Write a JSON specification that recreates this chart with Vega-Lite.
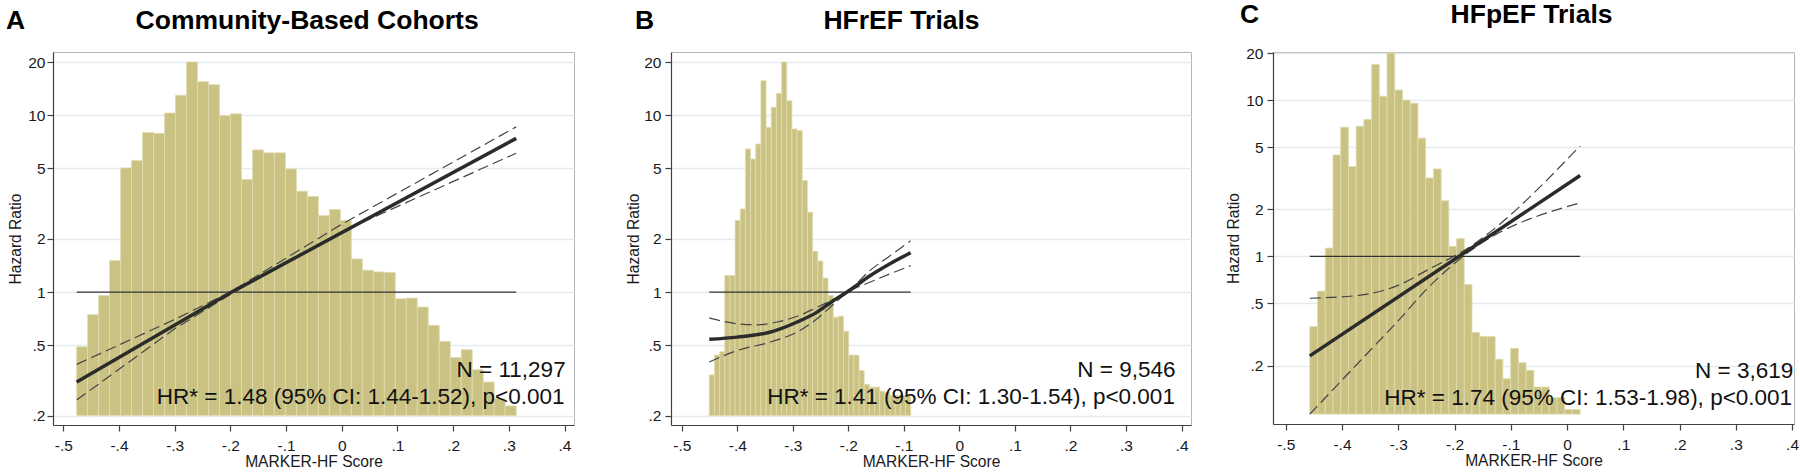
{
  "$schema": "https://vega.github.io/schema/vega-lite/v6.json",
  "background": "white",
  "padding": {"top": 1, "left": 5, "right": 5, "bottom": 2},
  "datasets": {
    "barsA": [
      {"x": -0.4760, "xe": -0.4563, "hr": 0.49},
      {"x": -0.4563, "xe": -0.4365, "hr": 0.745},
      {"x": -0.4365, "xe": -0.4168, "hr": 0.957},
      {"x": -0.4168, "xe": -0.3971, "hr": 1.51},
      {"x": -0.3971, "xe": -0.3774, "hr": 5.04},
      {"x": -0.3774, "xe": -0.3576, "hr": 5.55},
      {"x": -0.3576, "xe": -0.3379, "hr": 8.0},
      {"x": -0.3379, "xe": -0.3182, "hr": 7.9},
      {"x": -0.3182, "xe": -0.2984, "hr": 10.3},
      {"x": -0.2984, "xe": -0.2787, "hr": 13.0},
      {"x": -0.2787, "xe": -0.2590, "hr": 20.0},
      {"x": -0.2590, "xe": -0.2392, "hr": 15.5},
      {"x": -0.2392, "xe": -0.2195, "hr": 14.9},
      {"x": -0.2195, "xe": -0.1998, "hr": 9.95},
      {"x": -0.1998, "xe": -0.1801, "hr": 10.2},
      {"x": -0.1801, "xe": -0.1603, "hr": 4.33},
      {"x": -0.1603, "xe": -0.1406, "hr": 6.37},
      {"x": -0.1406, "xe": -0.1209, "hr": 6.13},
      {"x": -0.1209, "xe": -0.1011, "hr": 6.13},
      {"x": -0.1011, "xe": -0.0814, "hr": 4.97},
      {"x": -0.0814, "xe": -0.0617, "hr": 3.72},
      {"x": -0.0617, "xe": -0.0419, "hr": 3.47},
      {"x": -0.0419, "xe": -0.0222, "hr": 2.71},
      {"x": -0.0222, "xe": -0.0025, "hr": 2.93},
      {"x": -0.0025, "xe": 0.0172, "hr": 2.54},
      {"x": 0.0172, "xe": 0.0370, "hr": 1.54},
      {"x": 0.0370, "xe": 0.0567, "hr": 1.33},
      {"x": 0.0567, "xe": 0.0764, "hr": 1.30},
      {"x": 0.0764, "xe": 0.0961, "hr": 1.29},
      {"x": 0.0961, "xe": 0.1159, "hr": 0.917},
      {"x": 0.1159, "xe": 0.1356, "hr": 0.925},
      {"x": 0.1356, "xe": 0.1553, "hr": 0.823},
      {"x": 0.1553, "xe": 0.1751, "hr": 0.648},
      {"x": 0.1751, "xe": 0.1948, "hr": 0.526},
      {"x": 0.1948, "xe": 0.2145, "hr": 0.426},
      {"x": 0.2145, "xe": 0.2343, "hr": 0.472},
      {"x": 0.2343, "xe": 0.2540, "hr": 0.364},
      {"x": 0.2540, "xe": 0.2737, "hr": 0.310},
      {"x": 0.2737, "xe": 0.2934, "hr": 0.25},
      {"x": 0.2934, "xe": 0.3132, "hr": 0.227}
    ],
    "barsB": [
      {"x": -0.4505, "xe": -0.4412, "hr": 0.34},
      {"x": -0.4412, "xe": -0.4319, "hr": 0.44},
      {"x": -0.4319, "xe": -0.4226, "hr": 0.46},
      {"x": -0.4226, "xe": -0.4133, "hr": 1.24},
      {"x": -0.4133, "xe": -0.4040, "hr": 1.24},
      {"x": -0.4040, "xe": -0.3947, "hr": 2.54},
      {"x": -0.3947, "xe": -0.3854, "hr": 2.95},
      {"x": -0.3854, "xe": -0.3761, "hr": 6.45},
      {"x": -0.3761, "xe": -0.3668, "hr": 5.66},
      {"x": -0.3668, "xe": -0.3575, "hr": 6.88},
      {"x": -0.3575, "xe": -0.3482, "hr": 15.7},
      {"x": -0.3482, "xe": -0.3389, "hr": 8.55},
      {"x": -0.3389, "xe": -0.3296, "hr": 11.1},
      {"x": -0.3296, "xe": -0.3203, "hr": 13.3},
      {"x": -0.3203, "xe": -0.3110, "hr": 20.0},
      {"x": -0.3110, "xe": -0.3017, "hr": 12.1},
      {"x": -0.3017, "xe": -0.2924, "hr": 8.37},
      {"x": -0.2924, "xe": -0.2831, "hr": 8.2},
      {"x": -0.2831, "xe": -0.2738, "hr": 4.27},
      {"x": -0.2738, "xe": -0.2645, "hr": 2.83},
      {"x": -0.2645, "xe": -0.2552, "hr": 1.7},
      {"x": -0.2552, "xe": -0.2459, "hr": 1.5},
      {"x": -0.2459, "xe": -0.2366, "hr": 1.2},
      {"x": -0.2366, "xe": -0.2273, "hr": 0.957},
      {"x": -0.2273, "xe": -0.2180, "hr": 0.72},
      {"x": -0.2180, "xe": -0.2087, "hr": 0.73},
      {"x": -0.2087, "xe": -0.1994, "hr": 0.6},
      {"x": -0.1994, "xe": -0.1901, "hr": 0.44},
      {"x": -0.1901, "xe": -0.1808, "hr": 0.44},
      {"x": -0.1808, "xe": -0.1715, "hr": 0.36},
      {"x": -0.1715, "xe": -0.1622, "hr": 0.30},
      {"x": -0.1622, "xe": -0.1529, "hr": 0.29},
      {"x": -0.1529, "xe": -0.1436, "hr": 0.29},
      {"x": -0.1436, "xe": -0.1343, "hr": 0.275},
      {"x": -0.1343, "xe": -0.1250, "hr": 0.27},
      {"x": -0.1250, "xe": -0.1157, "hr": 0.26},
      {"x": -0.1157, "xe": -0.1064, "hr": 0.26},
      {"x": -0.1064, "xe": -0.0971, "hr": 0.26},
      {"x": -0.0971, "xe": -0.0878, "hr": 0.26}
    ],
    "barsC": [
      {"x": -0.4572, "xe": -0.4435, "hr": 0.356},
      {"x": -0.4435, "xe": -0.4297, "hr": 0.60},
      {"x": -0.4297, "xe": -0.4160, "hr": 1.13},
      {"x": -0.4160, "xe": -0.4023, "hr": 4.46},
      {"x": -0.4023, "xe": -0.3885, "hr": 6.71},
      {"x": -0.3885, "xe": -0.3748, "hr": 3.76},
      {"x": -0.3748, "xe": -0.3611, "hr": 6.8},
      {"x": -0.3611, "xe": -0.3474, "hr": 7.52},
      {"x": -0.3474, "xe": -0.3336, "hr": 16.9},
      {"x": -0.3336, "xe": -0.3199, "hr": 10.6},
      {"x": -0.3199, "xe": -0.3062, "hr": 20.0},
      {"x": -0.3062, "xe": -0.2924, "hr": 11.6},
      {"x": -0.2924, "xe": -0.2787, "hr": 10.0},
      {"x": -0.2787, "xe": -0.2650, "hr": 9.56},
      {"x": -0.2650, "xe": -0.2513, "hr": 5.71},
      {"x": -0.2513, "xe": -0.2375, "hr": 3.18},
      {"x": -0.2375, "xe": -0.2238, "hr": 3.63},
      {"x": -0.2238, "xe": -0.2101, "hr": 2.27},
      {"x": -0.2101, "xe": -0.1963, "hr": 1.16},
      {"x": -0.1963, "xe": -0.1826, "hr": 1.30},
      {"x": -0.1826, "xe": -0.1689, "hr": 0.66},
      {"x": -0.1689, "xe": -0.1551, "hr": 0.326},
      {"x": -0.1551, "xe": -0.1414, "hr": 0.307},
      {"x": -0.1414, "xe": -0.1277, "hr": 0.307},
      {"x": -0.1277, "xe": -0.1140, "hr": 0.22},
      {"x": -0.1140, "xe": -0.1002, "hr": 0.165},
      {"x": -0.1002, "xe": -0.0865, "hr": 0.258},
      {"x": -0.0865, "xe": -0.0728, "hr": 0.209},
      {"x": -0.0728, "xe": -0.0590, "hr": 0.187},
      {"x": -0.0590, "xe": -0.0453, "hr": 0.146},
      {"x": -0.0453, "xe": -0.0316, "hr": 0.146},
      {"x": -0.0316, "xe": -0.0178, "hr": 0.125},
      {"x": -0.0178, "xe": -0.0041, "hr": 0.125},
      {"x": -0.0041, "xe": 0.0096, "hr": 0.105},
      {"x": 0.0096, "xe": 0.0233, "hr": 0.105}
    ],
    "curves": [
      {"p": "A", "s": "ref", "x": -0.476, "hr": 1},
      {"p": "A", "s": "ref", "x": 0.3132, "hr": 1},
      {"p": "A", "s": "hr", "x": -0.476, "hr": 0.31},
      {"p": "A", "s": "hr", "x": -0.2, "hr": 0.99},
      {"p": "A", "s": "hr", "x": 0.3132, "hr": 7.4},
      {"p": "A", "s": "up", "x": -0.476, "hr": 0.39},
      {"p": "A", "s": "up", "x": -0.3, "hr": 0.70},
      {"p": "A", "s": "up", "x": -0.2, "hr": 1.0},
      {"p": "A", "s": "up", "x": 0.0, "hr": 2.42},
      {"p": "A", "s": "up", "x": 0.3132, "hr": 8.6},
      {"p": "A", "s": "lo", "x": -0.476, "hr": 0.245},
      {"p": "A", "s": "lo", "x": -0.3, "hr": 0.62},
      {"p": "A", "s": "lo", "x": -0.2, "hr": 0.97},
      {"p": "A", "s": "lo", "x": 0.0, "hr": 2.2},
      {"p": "A", "s": "lo", "x": 0.3132, "hr": 6.1},
      {"p": "B", "s": "ref", "x": -0.4505, "hr": 1},
      {"p": "B", "s": "ref", "x": -0.0878, "hr": 1},
      {"p": "B", "s": "hr", "x": -0.4505, "hr": 0.54},
      {"p": "B", "s": "hr", "x": -0.4001, "hr": 0.556},
      {"p": "B", "s": "hr", "x": -0.3401, "hr": 0.594},
      {"p": "B", "s": "hr", "x": -0.2922, "hr": 0.677},
      {"p": "B", "s": "hr", "x": -0.2563, "hr": 0.77},
      {"p": "B", "s": "hr", "x": -0.2293, "hr": 0.885},
      {"p": "B", "s": "hr", "x": -0.2023, "hr": 1.0},
      {"p": "B", "s": "hr", "x": -0.1603, "hr": 1.24},
      {"p": "B", "s": "hr", "x": -0.1243, "hr": 1.45},
      {"p": "B", "s": "hr", "x": -0.0878, "hr": 1.67},
      {"p": "B", "s": "up", "x": -0.4505, "hr": 0.715},
      {"p": "B", "s": "up", "x": -0.4001, "hr": 0.662},
      {"p": "B", "s": "up", "x": -0.3642, "hr": 0.653},
      {"p": "B", "s": "up", "x": -0.3282, "hr": 0.677},
      {"p": "B", "s": "up", "x": -0.2922, "hr": 0.73},
      {"p": "B", "s": "up", "x": -0.2563, "hr": 0.82},
      {"p": "B", "s": "up", "x": -0.2293, "hr": 0.9},
      {"p": "B", "s": "up", "x": -0.2023, "hr": 1.0},
      {"p": "B", "s": "up", "x": -0.1603, "hr": 1.33},
      {"p": "B", "s": "up", "x": -0.1243, "hr": 1.61},
      {"p": "B", "s": "up", "x": -0.0878, "hr": 1.95},
      {"p": "B", "s": "lo", "x": -0.4505, "hr": 0.402},
      {"p": "B", "s": "lo", "x": -0.4001, "hr": 0.467},
      {"p": "B", "s": "lo", "x": -0.3401, "hr": 0.522},
      {"p": "B", "s": "lo", "x": -0.2922, "hr": 0.594},
      {"p": "B", "s": "lo", "x": -0.2563, "hr": 0.706},
      {"p": "B", "s": "lo", "x": -0.2293, "hr": 0.84},
      {"p": "B", "s": "lo", "x": -0.2023, "hr": 0.99},
      {"p": "B", "s": "lo", "x": -0.1603, "hr": 1.14},
      {"p": "B", "s": "lo", "x": -0.1243, "hr": 1.27},
      {"p": "B", "s": "lo", "x": -0.0878, "hr": 1.41},
      {"p": "C", "s": "ref", "x": -0.4572, "hr": 1},
      {"p": "C", "s": "ref", "x": 0.0233, "hr": 1},
      {"p": "C", "s": "hr", "x": -0.4572, "hr": 0.231},
      {"p": "C", "s": "hr", "x": 0.0233, "hr": 3.29},
      {"p": "C", "s": "up", "x": -0.4572, "hr": 0.54},
      {"p": "C", "s": "up", "x": -0.3675, "hr": 0.565},
      {"p": "C", "s": "up", "x": -0.2995, "hr": 0.655},
      {"p": "C", "s": "up", "x": -0.2451, "hr": 0.83},
      {"p": "C", "s": "up", "x": -0.185, "hr": 1.08},
      {"p": "C", "s": "up", "x": 0.0233, "hr": 5.1},
      {"p": "C", "s": "lo", "x": -0.4572, "hr": 0.098},
      {"p": "C", "s": "lo", "x": -0.3675, "hr": 0.215},
      {"p": "C", "s": "lo", "x": -0.2995, "hr": 0.39},
      {"p": "C", "s": "lo", "x": -0.2451, "hr": 0.64},
      {"p": "C", "s": "lo", "x": -0.185, "hr": 1.0},
      {"p": "C", "s": "lo", "x": 0.0233, "hr": 2.2}
    ]
  },
  "align": "none",
  "spacing": 51,
  "hconcat": [
    {
      "width": 521,
      "height": 373,
      "title": {"text": "A\u00a0\u00a0\u00a0\u00a0\u00a0\u00a0\u00a0\u00a0\u00a0\u00a0\u00a0\u00a0\u00a0\u00a0\u00a0Community-Based Cohorts", "anchor": "start", "frame": "group", "dx": -47, "offset": -3, "baseline": "alphabetic"},
      "layer": [
        {
          "encoding": {
            "x": {"field": "x", "type": "quantitative", "scale": {"domain": [-0.5185, 0.417], "nice": false, "zero": false},
                  "axis": {"values": [-0.5, -0.4, -0.3, -0.2, -0.1, 0, 0.1, 0.2, 0.3, 0.4], "labelExpr": "(datum.value < 0 ? '-' : '') + replace(format(abs(datum.value), '~g'), '0.', '.')", "title": "MARKER-HF Score", "labelPadding": 7, "titlePadding": 1, "grid": false}},
            "y": {"field": "hr", "type": "quantitative", "scale": {"type": "log", "domain": [0.177, 22.8], "nice": false},
                  "axis": {"values": [0.2, 0.5, 1, 2, 5, 10, 20], "labelExpr": "replace(format(datum.value, '~g'), '0.', '.')", "title": "Hazard Ratio", "grid": true, "gridColor": "#e2ebee", "gridWidth": 1.3, "labelPadding": 2, "titlePadding": 4}}
          },
          "layer": [
            {"data": {"name": "barsA"}, "mark": {"type": "rect", "fill": "#cac283", "stroke": "#e2dcb0", "strokeWidth": 0.8}, "encoding": {"x2": {"field": "xe"}, "y2": {"datum": 0.2}}},
            {"data": {"name": "curves"}, "transform": [{"filter": "datum.p == 'A' && datum.s == 'ref'"}], "mark": {"type": "line", "color": "#333333", "strokeWidth": 1.2}, "encoding": {}},
            {"data": {"name": "curves"}, "transform": [{"filter": "datum.p == 'A' && (datum.s == 'up' || datum.s == 'lo')"}], "mark": {"type": "line", "color": "#444444", "strokeWidth": 1.2, "strokeDash": [11, 5]}, "encoding": {"detail": {"field": "s"}}},
            {"data": {"name": "curves"}, "transform": [{"filter": "datum.p == 'A' && datum.s == 'hr'"}], "mark": {"type": "line", "color": "#2b2b2b", "strokeWidth": 3.5}, "encoding": {}}
          ]
        },
        {"data": {"values": [{"lab": "N = 11,297"}]}, "mark": {"type": "text", "align": "right", "baseline": "middle", "fontSize": 22.5, "color": "#111111"}, "encoding": {"x": {"datum": 0.402, "type": "quantitative"}, "y": {"datum": 0.36, "type": "quantitative"}, "text": {"field": "lab", "type": "nominal"}}},
        {"data": {"values": [{"lab": "HR* = 1.48 (95% CI: 1.44-1.52), p<0.001"}]}, "mark": {"type": "text", "align": "right", "baseline": "middle", "fontSize": 22.5, "color": "#111111"}, "encoding": {"x": {"datum": 0.4, "type": "quantitative"}, "y": {"datum": 0.255, "type": "quantitative"}, "text": {"field": "lab", "type": "nominal"}}}
      ]
    },
    {
      "align": "none",
      "spacing": 34,
      "hconcat": [
        {
          "width": 520,
          "height": 373,
          "title": {"text": "B\u00a0\u00a0\u00a0\u00a0\u00a0\u00a0\u00a0\u00a0\u00a0\u00a0\u00a0\u00a0\u00a0\u00a0\u00a0\u00a0\u00a0\u00a0\u00a0\u00a0\u00a0\u00a0\u00a0HFrEF Trials", "anchor": "start", "frame": "group", "dx": -36, "offset": -3, "baseline": "alphabetic"},
          "layer": [
            {
              "encoding": {
                "x": {"field": "x", "type": "quantitative", "scale": {"domain": [-0.5194, 0.417], "nice": false, "zero": false},
                      "axis": {"values": [-0.5, -0.4, -0.3, -0.2, -0.1, 0, 0.1, 0.2, 0.3, 0.4], "labelExpr": "(datum.value < 0 ? '-' : '') + replace(format(abs(datum.value), '~g'), '0.', '.')", "title": "MARKER-HF Score", "labelPadding": 7, "titlePadding": 1, "grid": false}},
                "y": {"field": "hr", "type": "quantitative", "scale": {"type": "log", "domain": [0.177, 22.8], "nice": false},
                      "axis": {"values": [0.2, 0.5, 1, 2, 5, 10, 20], "labelExpr": "replace(format(datum.value, '~g'), '0.', '.')", "title": "Hazard Ratio", "grid": true, "gridColor": "#e2ebee", "gridWidth": 1.3, "labelPadding": 4, "titlePadding": 2}}
              },
              "layer": [
                {"data": {"name": "barsB"}, "mark": {"type": "rect", "fill": "#cac283", "stroke": "#e2dcb0", "strokeWidth": 0.8}, "encoding": {"x2": {"field": "xe"}, "y2": {"datum": 0.2}}},
                {"data": {"name": "curves"}, "transform": [{"filter": "datum.p == 'B' && datum.s == 'ref'"}], "mark": {"type": "line", "color": "#333333", "strokeWidth": 1.2}, "encoding": {}},
                {"data": {"name": "curves"}, "transform": [{"filter": "datum.p == 'B' && (datum.s == 'up' || datum.s == 'lo')"}], "mark": {"type": "line", "color": "#444444", "strokeWidth": 1.2, "strokeDash": [11, 5], "interpolate": "monotone"}, "encoding": {"detail": {"field": "s"}}},
                {"data": {"name": "curves"}, "transform": [{"filter": "datum.p == 'B' && datum.s == 'hr'"}], "mark": {"type": "line", "color": "#2b2b2b", "strokeWidth": 3.5, "interpolate": "monotone"}, "encoding": {}}
              ]
            },
            {"data": {"values": [{"lab": "N = 9,546"}]}, "mark": {"type": "text", "align": "right", "baseline": "middle", "fontSize": 22.5, "color": "#111111"}, "encoding": {"x": {"datum": 0.389, "type": "quantitative"}, "y": {"datum": 0.36, "type": "quantitative"}, "text": {"field": "lab", "type": "nominal"}}},
            {"data": {"values": [{"lab": "HR* = 1.41 (95% CI: 1.30-1.54), p<0.001"}]}, "mark": {"type": "text", "align": "right", "baseline": "middle", "fontSize": 22.5, "color": "#111111"}, "encoding": {"x": {"datum": 0.388, "type": "quantitative"}, "y": {"datum": 0.255, "type": "quantitative"}, "text": {"field": "lab", "type": "nominal"}}}
          ]
        },
        {
          "width": 521,
          "height": 372,
          "title": {"text": "C\u00a0\u00a0\u00a0\u00a0\u00a0\u00a0\u00a0\u00a0\u00a0\u00a0\u00a0\u00a0\u00a0\u00a0\u00a0\u00a0\u00a0\u00a0\u00a0\u00a0\u00a0\u00a0\u00a0\u00a0\u00a0\u00a0HFpEF Trials", "anchor": "start", "frame": "group", "dx": -33, "offset": -3, "baseline": "alphabetic"},
          "layer": [
            {
              "encoding": {
                "x": {"field": "x", "type": "quantitative", "scale": {"domain": [-0.5226, 0.4034], "nice": false, "zero": false},
                      "axis": {"values": [-0.5, -0.4, -0.3, -0.2, -0.1, 0, 0.1, 0.2, 0.3, 0.4], "labelExpr": "(datum.value < 0 ? '-' : '') + replace(format(abs(datum.value), '~g'), '0.', '.')", "title": "MARKER-HF Score", "labelPadding": 7, "titlePadding": 1, "grid": false}},
                "y": {"field": "hr", "type": "quantitative", "scale": {"type": "log", "domain": [0.0847, 20.31], "nice": false},
                      "axis": {"values": [0.2, 0.5, 1, 2, 5, 10, 20], "labelExpr": "replace(format(datum.value, '~g'), '0.', '.')", "title": "Hazard Ratio", "grid": true, "gridColor": "#e2ebee", "gridWidth": 1.3, "labelPadding": 4, "titlePadding": 4}}
              },
              "layer": [
                {"data": {"name": "barsC"}, "mark": {"type": "rect", "fill": "#cac283", "stroke": "#e2dcb0", "strokeWidth": 0.8}, "encoding": {"x2": {"field": "xe"}, "y2": {"datum": 0.098}}},
                {"data": {"name": "curves"}, "transform": [{"filter": "datum.p == 'C' && datum.s == 'ref'"}], "mark": {"type": "line", "color": "#333333", "strokeWidth": 1.2}, "encoding": {}},
                {"data": {"name": "curves"}, "transform": [{"filter": "datum.p == 'C' && (datum.s == 'up' || datum.s == 'lo')"}], "mark": {"type": "line", "color": "#444444", "strokeWidth": 1.2, "strokeDash": [11, 5], "interpolate": "monotone"}, "encoding": {"detail": {"field": "s"}}},
                {"data": {"name": "curves"}, "transform": [{"filter": "datum.p == 'C' && datum.s == 'hr'"}], "mark": {"type": "line", "color": "#2b2b2b", "strokeWidth": 3.5}, "encoding": {}}
              ]
            },
            {"data": {"values": [{"lab": "N = 3,619"}]}, "mark": {"type": "text", "align": "right", "baseline": "middle", "fontSize": 22.5, "color": "#111111"}, "encoding": {"x": {"datum": 0.402, "type": "quantitative"}, "y": {"datum": 0.185, "type": "quantitative"}, "text": {"field": "lab", "type": "nominal"}}},
            {"data": {"values": [{"lab": "HR* = 1.74 (95% CI: 1.53-1.98), p<0.001"}]}, "mark": {"type": "text", "align": "right", "baseline": "middle", "fontSize": 22.5, "color": "#111111"}, "encoding": {"x": {"datum": 0.4, "type": "quantitative"}, "y": {"datum": 0.125, "type": "quantitative"}, "text": {"field": "lab", "type": "nominal"}}}
          ]
        }
      ]
    }
  ],
  "config": {
    "view": {"stroke": "#b4b4b4", "strokeWidth": 1},
    "axis": {"labelFont": "Liberation Sans", "titleFont": "Liberation Sans", "labelFontSize": 15.5, "titleFontSize": 15.6, "titleFontWeight": "normal", "labelColor": "#1a1a1a", "titleColor": "#1a1a1a", "domainColor": "#404040", "tickColor": "#404040", "tickSize": 6, "domainWidth": 1.2, "tickWidth": 1.2, "labelOverlap": false, "labelFlush": false},
    "title": {"font": "Liberation Sans", "fontSize": 26.5, "fontWeight": "bold", "color": "#000000"},
    "text": {"font": "Liberation Sans"}
  }
}
